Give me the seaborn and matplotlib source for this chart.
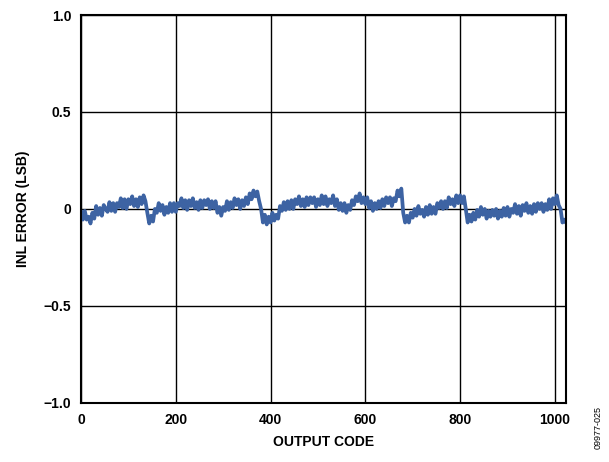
import numpy as np
import pandas as pd
import matplotlib
matplotlib.use("Agg")
import matplotlib.pyplot as plt
import seaborn as sns

# codigo de salida (paso de 4) y error INL
codes = list(range(0, 1024, 4)) + [1023]
inl = [
    -0.01, -0.055, -0.01, -0.055, -0.04, -0.075, -0.02, -0.05,
    0.015, -0.03, 0.005, -0.035, 0.02, 0.0, -0.015, 0.035,
    -0.01, 0.03, -0.015, 0.03, 0.01, 0.055, 0.005, 0.05,
    0.0, 0.05, 0.025, 0.065, 0.015, 0.05, 0.01, 0.06,
    0.025, 0.07, 0.04, -0.02, -0.075, -0.035, -0.065, 0.0,
    -0.02, 0.03, -0.01, 0.02, -0.03, 0.01, -0.02, 0.03,
    -0.015, 0.03, -0.015, 0.03, 0.015, 0.055, 0.005, 0.045,
    -0.005, 0.045, 0.015, 0.055, 0.005, 0.035, -0.005, 0.045,
    0.005, 0.045, 0.02, 0.05, 0.0, 0.04, 0.005, 0.04,
    -0.02, 0.01, -0.035, 0.01, -0.01, 0.04, -0.005, 0.035,
    0.005, 0.055, 0.02, 0.05, 0.0, 0.045, 0.015, 0.06,
    0.025, 0.08, 0.05, 0.095, 0.065, 0.09, 0.04, 0.0,
    -0.07, -0.03, -0.08, -0.04, -0.07, -0.02, -0.06, -0.03,
    -0.05, 0.015, -0.01, 0.035, -0.005, 0.04, 0.0, 0.045,
    0.0, 0.05, 0.025, 0.065, 0.015, 0.05, 0.01, 0.06,
    0.02, 0.06, 0.03, 0.06, 0.01, 0.05, 0.02, 0.07,
    0.025, 0.065, 0.015, 0.05, 0.03, 0.07, 0.015, 0.05,
    -0.005, 0.03, -0.01, 0.03, -0.02, 0.02, -0.005, 0.045,
    0.02, 0.065, 0.04, 0.08, 0.03, 0.06, 0.025, 0.06,
    0.005, 0.04, -0.01, 0.03, 0.0, 0.04, 0.005, 0.05,
    0.015, 0.06, 0.03, 0.06, 0.015, 0.055, 0.04, 0.095,
    0.065, 0.105, -0.02, -0.07, -0.035, -0.07, -0.02, -0.045,
    0.0, -0.035, 0.015, -0.025, -0.005, -0.04, 0.01, -0.03,
    0.02, -0.025, 0.01, -0.025, 0.03, 0.005, 0.04, 0.0,
    0.04, 0.005, 0.06, 0.025, 0.05, 0.015, 0.07, 0.03,
    0.07, 0.03, 0.065, 0.0, -0.07, -0.03, -0.065, -0.02,
    -0.055, -0.005, -0.04, 0.01, -0.03, 0.0, -0.05, -0.01,
    -0.04, -0.005, -0.035, 0.0, -0.05, -0.01, -0.04, 0.005,
    -0.035, 0.01, -0.04, 0.0, -0.02, 0.025, -0.025, 0.015,
    -0.035, 0.02, -0.01, 0.03, -0.02, 0.015, -0.025, 0.025,
    -0.015, 0.03, 0.0, 0.03, -0.015, 0.025, -0.005, 0.05,
    0.0, 0.055, 0.025, 0.07, 0.02, 0.0, -0.07, -0.055,
    -0.07,
]

x_ticks = [0, 200, 400, 600, 800, 1000]
y_ticks = [-1.0, -0.5, 0, 0.5, 1.0]
y_labels = ["\u22121.0", "\u22120.5", "0", "0.5", "1.0"]

df = pd.DataFrame({"code": codes, "inl": inl})

sns.set_style("white")
plt.rcParams["font.family"] = ["Liberation Sans", "DejaVu Sans"]
plt.rcParams["text.color"] = "black"
plt.rcParams["xtick.color"] = "black"
plt.rcParams["ytick.color"] = "black"
plt.rcParams["axes.labelcolor"] = "black"

fig = plt.figure(figsize=(6.09, 4.62), dpi=100)
ax = fig.add_axes([0.133, 0.128, 0.796, 0.8395])

sns.lineplot(data=df, x="code", y="inl", color="#3d63a3", linewidth=2.7, ax=ax)

ax.set_xlim(0, 1023)
ax.set_ylim(-1.0, 1.0)
ax.set_xticks(x_ticks)
ax.set_yticks(y_ticks)
ax.set_yticklabels(y_labels)
ax.grid(True, color="black", linewidth=1.0)
ax.set_axisbelow(True)
ax.tick_params(length=0, pad=7, labelsize=10)
for lab in ax.get_xticklabels() + ax.get_yticklabels():
    lab.set_fontweight("bold")
for s in ax.spines.values():
    s.set_color("black")
    s.set_linewidth(1.5)

ax.set_xlabel("OUTPUT CODE", fontsize=10, fontweight="bold", labelpad=6)
ax.set_ylabel("INL ERROR (LSB)", fontsize=10, fontweight="bold", labelpad=10)

fig.text(0.982, 0.075, "09977-025", rotation=90, fontsize=6.5, ha="center", va="center")

fig.savefig("out.png", dpi=100)
